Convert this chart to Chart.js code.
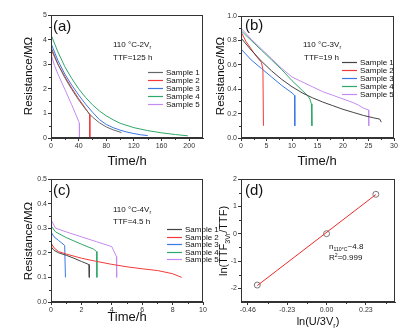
<!DOCTYPE html>
<html><head><meta charset="utf-8">
<script src="https://cdn.jsdelivr.net/npm/chart.js@4"></script>
<style>
html,body{margin:0;padding:0;background:#fff;}
#wrap{position:relative;width:405px;height:332px;overflow:hidden;background:#fff;}
canvas{position:absolute;left:0;top:0;}
</style></head><body>
<div id="wrap">
<canvas id="ca" width="405" height="332"></canvas>
<canvas id="cb" width="405" height="332"></canvas>
<canvas id="cc" width="405" height="332"></canvas>
<canvas id="cd" width="405" height="332"></canvas>
</div>
<script>
// ---------- DATA ----------
const sampleLabels = ['Sample 1','Sample 2','Sample 3','Sample 4','Sample 5'];

// Panel (a) 110 °C - 2Vr
const aT1 = [0,10,20,30,40,50,56,60,70,80,90,102];
const aR1 = [3.7,3.0,2.45,1.98,1.55,1.17,0.97,0.85,0.62,0.45,0.33,0.22];
const aT2 = [0,10,20,30,40,50,56,56.2];
const aR2 = [3.6,3.0,2.5,2.03,1.6,1.2,0.95,0];
const aT3 = [0,10,20,30,40,50,60,70,80,90,100,110,120,130,140];
const aR3 = [3.85,3.15,2.6,2.15,1.75,1.38,1.05,0.75,0.55,0.42,0.32,0.24,0.18,0.13,0.1];
const aT4 = [0,10,20,30,40,50,60,70,80,90,100,120,140,160,180,198];
const aR4 = [4.2,3.5,2.9,2.42,2.0,1.65,1.35,1.1,0.9,0.74,0.6,0.42,0.3,0.21,0.14,0.09];
const aT5 = [0,5,10,20,30,35,40,41,41.2];
const aR5 = [3.4,2.95,2.6,1.98,1.35,1.02,0.68,0.6,0];

// Panel (b) 110 °C - 3Vr
const bT1 = [0,2,4,6,8,10,12,14,16,18,20,22,24,26,27.2,27.5];
const bR1 = [0.82,0.72,0.63,0.55,0.48,0.42,0.37,0.33,0.295,0.265,0.235,0.21,0.185,0.165,0.155,0.13];
const bT2 = [0,1,2,3,4,4.3,4.4];
const bR2 = [0.87,0.79,0.73,0.67,0.62,0.56,0.1];
const bT3 = [0,2,4,6,8,10,10.5,10.55];
const bR3 = [0.73,0.64,0.57,0.5,0.43,0.37,0.35,0.1];
const bT4 = [0,2,4,6,8,10,12,13,13.5,13.8,13.9];
const bR4 = [0.88,0.8,0.72,0.64,0.56,0.47,0.39,0.35,0.32,0.28,0.1];
const bT5 = [0,2,4,6,8,10,12,14,16,18,20,22,23,24,25,25.05];
const bR5 = [0.9,0.81,0.73,0.65,0.57,0.5,0.46,0.42,0.38,0.35,0.32,0.29,0.27,0.245,0.23,0.1];

// Panel (c) 110 °C - 4Vr
const cT1 = [0,0.2,0.5,1,1.5,2,2.5,2.52];
const cR1 = [0.225,0.21,0.2,0.19,0.178,0.165,0.152,0.1];
const cT2 = [0,0.2,0.5,1,2,3,4,5,6,7,8,8.6];
const cR2 = [0.24,0.22,0.205,0.195,0.178,0.165,0.153,0.143,0.135,0.128,0.115,0.1];
const cT3 = [0,0.2,0.5,0.9,0.95];
const cR3 = [0.285,0.265,0.25,0.23,0.1];
const cT4 = [0,0.3,1,2,2.8,3.0,3.02];
const cR4 = [0.31,0.285,0.262,0.235,0.215,0.205,0.1];
const cT5 = [0,0.3,1,2,3,4,4.3,4.32];
const cR5 = [0.335,0.3,0.285,0.265,0.245,0.225,0.185,0.1];

// Panel (d) fit
const dX = [-0.405,0,0.288];
const dY = [-1.88,0,1.44];
const fitX = [-0.405,0.288];
const fitY = [-1.9,1.43];

// Tick values / labels
const aXTicks = [0,40,80,120,160,200], aXLabels = ['0','40','80','120','160','200'];
const aYTicks = [0,1,2,3,4,5], aYLabels = ['0','1','2','3','4','5'];
const bXTicks = [0,5,10,15,20,25,30], bXLabels = ['0','5','10','15','20','25','30'];
const bYTicks = [0,0.2,0.4,0.6,0.8,1.0], bYLabels = ['0.0','0.2','0.4','0.6','0.8','1.0'];
const cXTicks = [0,2,4,6,8,10], cXLabels = ['0','2','4','6','8','10'];
const cYTicks = [0,0.1,0.2,0.3,0.4,0.5], cYLabels = ['0.0','0.1','0.2','0.3','0.4','0.5'];
const dXTicks = [-0.46,-0.23,0,0.23], dXLabels = ['-0.46','-0.23','0.00','0.23'];
const dYTicks = [-2,-1,0,1,2], dYLabels = ['-2','-1','0','1','2'];

// Texts
const resTitle = [['Resistance/MΩ','']];
const timeTitle = [['Time/h','']];
const aCond = [['110 °C-2V',''],['r','sub']], aTTF = [['TTF=125 h','']];
const bCond = [['110 °C-3V',''],['r','sub']], bTTF = [['TTF=19 h','']];
const cCond = [['110 °C-4V',''],['r','sub']], cTTF = [['TTF=4.5 h','']];
const dN = [['n',''],['110°C','sub'],['~4.8','']];
const dR2 = [['R',''],['2','sup'],['=0.999','']];
const dXTitle = [['ln(U/3V',''],['r','sub'],[')','']];
const dYTitle = [['ln(TTF',''],['3Vr','sub'],['/TTF)','']];

// ---------- STYLE ----------
const FONT = 'Arial, "Liberation Sans", sans-serif';
const COL = ['#444','#f23a3a','#3b78e4','#2fa66a','#c58af0'];
const YW = 20, XH = 16;

function rich(ctx, segs, x, cy, size, align) {
  let w = 0;
  const parts = segs.map(([t,m]) => {
    const fs = m ? size*0.65 : size;
    ctx.font = fs + 'px ' + FONT;
    const pw = ctx.measureText(t).width; w += pw;
    return {t, m, fs, pw};
  });
  let cx = align === 'center' ? x - w/2 : x;
  const base = cy + size*0.35;
  ctx.textAlign = 'left'; ctx.textBaseline = 'alphabetic';
  parts.forEach(p => {
    ctx.font = p.fs + 'px ' + FONT;
    const dy = p.m === 'sub' ? size*0.28 : (p.m === 'sup' ? -size*0.38 : 0);
    ctx.fillText(p.t, cx, base + dy);
    cx += p.pw;
  });
}

const decor = {
  ca: {label:'(a)', lp:[53,27], texts:[[aCond,113,44],[aTTF,113,57]], legend:[148,72,8],
       xT:[timeTitle,127,160,13], yT:[resTitle,28,76,11.5], mx:[20,60,100,140,180], my:[0.5,1.5,2.5,3.5,4.5]},
  cb: {label:'(b)', lp:[245,26], texts:[[bCond,303,44],[bTTF,304,57]], legend:[342,62,8],
       xT:[timeTitle,317,160,13], yT:[resTitle,220,76,11.5], mx:[2.5,7.5,12.5,17.5,22.5,27.5], my:[0.1,0.3,0.5,0.7,0.9]},
  cc: {label:'(c)', lp:[53,191], texts:[[cCond,113,209],[cTTF,113,221]], legend:[167,229,7.6],
       xT:[timeTitle,127,316,13], yT:[resTitle,28,241,11.5], mx:[1,3,5,7,9], my:[0.05,0.15,0.25,0.35,0.45]},
  cd: {label:'(d)', lp:[245,191], texts:[[dN,329,246],[dR2,329,257]], legend:null,
       xT:[dXTitle,318,321,11], yT:[dYTitle,223,241,11], mx:[-0.345,-0.115,0.115,0.345], my:[-1.5,-0.5,0.5,1.5]}
};

const annot = {
  id: 'annot',
  afterDraw(chart) {
    const d = decor[chart.canvas.id]; if (!d) return;
    const ctx = chart.ctx, a = chart.chartArea;
    ctx.save();
    ctx.strokeStyle = '#333'; ctx.lineWidth = 1;
    ctx.strokeRect(Math.round(a.left)+0.5, Math.round(a.top)+0.5, Math.round(a.right-a.left)-1, Math.round(a.bottom-a.top)-1);
    const xs = chart.scales.x, ys = chart.scales.y;
    ctx.beginPath();
    d.mx.forEach(v => { const p = Math.round(xs.getPixelForValue(v))+0.5; ctx.moveTo(p, a.bottom); ctx.lineTo(p, a.bottom+2); });
    d.my.forEach(v => { const p = Math.round(ys.getPixelForValue(v))+0.5; ctx.moveTo(a.left, p); ctx.lineTo(a.left-2, p); });
    ctx.stroke();
    ctx.fillStyle = '#111';
    ctx.font = '15px ' + FONT; ctx.textAlign = 'left'; ctx.textBaseline = 'middle';
    ctx.fillText(d.label, d.lp[0], d.lp[1]);
    d.texts.forEach(([s,x,y]) => rich(ctx, s, x, y, 8, 'left'));
    rich(ctx, d.xT[0], d.xT[1], d.xT[2], d.xT[3], 'center');
    ctx.save(); ctx.translate(d.yT[1], d.yT[2]); ctx.rotate(-Math.PI/2);
    rich(ctx, d.yT[0], 0, 0, d.yT[3], 'center'); ctx.restore();
    if (d.legend) {
      const [lx, ly, dy] = d.legend;
      chart.data.datasets.forEach((ds, i) => {
        const y = Math.round(ly + i*dy) + 0.5;
        ctx.strokeStyle = ds.borderColor; ctx.lineWidth = 1.2;
        ctx.beginPath(); ctx.moveTo(lx, y); ctx.lineTo(lx+15, y); ctx.stroke();
        ctx.fillStyle = '#111'; ctx.font = '8px ' + FONT; ctx.textBaseline = 'middle'; ctx.textAlign = 'left';
        ctx.fillText(ds.label, lx+18, y);
      });
    }
    ctx.restore();
  }
};

function scaleCfg(min, max, tv, tl) {
  return {
    type: 'linear', min, max,
    afterBuildTicks: s => { s.ticks = tv.map(v => ({value: v})); },
    afterFit: s => { if (s.isHorizontal()) s.height = XH; else s.width = YW; },
    ticks: { font: {family: FONT, size: 7}, color: '#333', padding: 1, maxRotation: 0, autoSkip: false,
             callback: (v, i) => tl[i] },
    grid: { drawOnChartArea: false, drawTicks: true, tickLength: 3, color: '#333', lineWidth: 1 },
    border: { display: true, color: '#333', width: 1 }
  };
}

function lineDS(label, xs, ys, color) {
  return { type: 'line', label, data: xs.map((x, i) => ({x, y: ys[i]})), borderColor: color,
           borderWidth: 1, pointRadius: 0, tension: 0, fill: false };
}

function make(id, datasets, xsc, ysc, pad) {
  new Chart(document.getElementById(id), {
    type: 'line',
    data: { datasets },
    options: {
      responsive: false, animation: false, events: [],
      layout: { padding: pad },
      scales: { x: xsc, y: ysc },
      plugins: { legend: {display: false}, tooltip: {enabled: false} }
    },
    plugins: [annot]
  });
}

make('ca', [
  lineDS(sampleLabels[0], aT1, aR1, '#666'), lineDS(sampleLabels[1], aT2, aR2, COL[1]),
  lineDS(sampleLabels[2], aT3, aR3, COL[2]), lineDS(sampleLabels[3], aT4, aR4, COL[3]),
  lineDS(sampleLabels[4], aT5, aR5, COL[4])
], scaleCfg(0, 220, aXTicks, aXLabels), scaleCfg(0, 5, aYTicks, aYLabels),
  {left: 51-YW, top: 15, right: 405-203, bottom: 332-138-XH});

make('cb', [
  lineDS(sampleLabels[0], bT1, bR1, COL[0]), lineDS(sampleLabels[1], bT2, bR2, COL[1]),
  lineDS(sampleLabels[2], bT3, bR3, COL[2]), lineDS(sampleLabels[3], bT4, bR4, COL[3]),
  lineDS(sampleLabels[4], bT5, bR5, COL[4])
], scaleCfg(0, 30, bXTicks, bXLabels), scaleCfg(0, 1, bYTicks, bYLabels),
  {left: 241-YW, top: 16, right: 405-394, bottom: 332-138-XH});

make('cc', [
  lineDS(sampleLabels[0], cT1, cR1, COL[0]), lineDS(sampleLabels[1], cT2, cR2, COL[1]),
  lineDS(sampleLabels[2], cT3, cR3, COL[2]), lineDS(sampleLabels[3], cT4, cR4, COL[3]),
  lineDS(sampleLabels[4], cT5, cR5, COL[4])
], scaleCfg(0, 10, cXTicks, cXLabels), scaleCfg(0, 0.5, cYTicks, cYLabels),
  {left: 51-YW, top: 179, right: 405-203, bottom: 332-302-XH});

make('cd', [
  lineDS('', fitX, fitY, '#ee2b2b'),
  { type: 'scatter', data: dX.map((x, i) => ({x, y: dY[i]})), showLine: false, pointRadius: 3,
    pointStyle: 'circle', borderColor: '#777', backgroundColor: 'rgba(0,0,0,0)', borderWidth: 1 }
], scaleCfg(-0.5, 0.4, dXTicks, dXLabels), scaleCfg(-2.5, 2, dYTicks, dYLabels),
  {left: 241-YW, top: 179, right: 405-395, bottom: 332-302-XH});
</script>
</body></html>
